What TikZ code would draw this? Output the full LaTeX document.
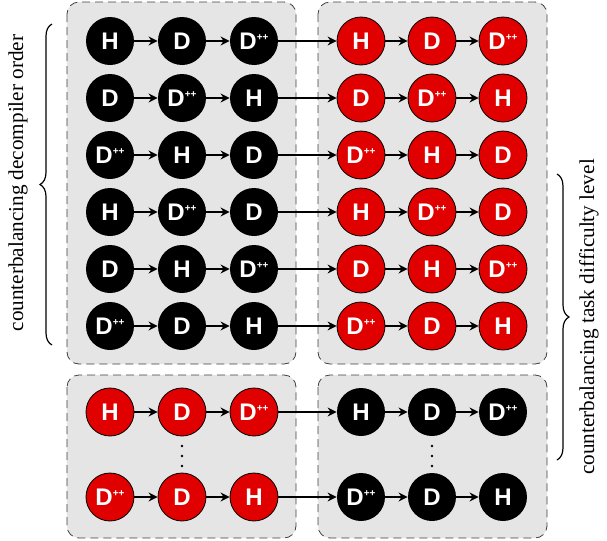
\documentclass[tikz,border=0pt]{standalone}
\usepackage{fontspec}
\setmainfont{Liberation Serif}
\setsansfont{Liberation Sans}
\usetikzlibrary{arrows.meta,decorations.pathreplacing}
\definecolor{condred}{RGB}{224,0,0}
\newcommand{\dH}{H}
\newcommand{\dD}{D}
\newcommand{\dP}{D\raisebox{4.3pt}{\tiny\bfseries ++}}
\tikzset{
    cond/.style={circle, inner sep=0pt, minimum size=24pt, text=white, font=\sffamily\bfseries\large},
    condB/.style={cond, fill=black},
    condR/.style={cond, fill=condred, draw=black, thin},
    panel/.style={draw=black!75, dash pattern=on 4pt off 2.5pt, fill=gray!20, rounded corners=6pt},
    step arrow/.style={thick, -{Stealth[length=4.5pt,width=4.5pt,inset=1.5pt]}},
    link/.style={semithick, -{Stealth[length=4.5pt,width=4.5pt,inset=1.5pt]}},
    sidebrace/.style={decorate, decoration={brace, amplitude=6pt}, semithick},
    sidelabel/.style={font=\fontsize{10.6}{12}\selectfont, rotate=90},
    vdot/.style={circle, fill=black, inner sep=0pt, minimum size=1.4pt},
}
\begin{document}
\begin{tikzpicture}[x=0.5pt,y=-0.5pt]
    \useasboundingbox (0,0) rectangle (607,541);
    % panels
    \draw[panel] (67,2) rectangle (296,364);
    \draw[panel] (318,2) rectangle (547,364);
    \draw[panel] (67,375) rectangle (296,538);
    \draw[panel] (318,375) rectangle (547,538);
    % decompiler order, all six permutations
    \foreach \a/\b/\c [count=\r] in {\dH/\dD/\dP, \dD/\dP/\dH, \dP/\dH/\dD, \dH/\dP/\dD, \dD/\dH/\dP, \dP/\dD/\dH} {
        \pgfmathsetmacro{\y}{41+57*(\r-1)}
        \node[condB] (L\r-1) at (110,\y) {\a};
        \node[condB] (L\r-2) at (182,\y) {\b};
        \node[condB] (L\r-3) at (254,\y) {\c};
        \node[condR] (R\r-1) at (361,\y) {\a};
        \node[condR] (R\r-2) at (432,\y) {\b};
        \node[condR] (R\r-3) at (503,\y) {\c};
        \draw[step arrow] (L\r-1) -- (L\r-2);
        \draw[step arrow] (L\r-2) -- (L\r-3);
        \draw[link] (L\r-3) -- (R\r-1);
        \draw[step arrow] (R\r-1) -- (R\r-2);
        \draw[step arrow] (R\r-2) -- (R\r-3);
    }
    % task difficulty swapped
    \foreach \a/\b/\c/\y [count=\r] in {\dH/\dD/\dP/412, \dP/\dD/\dH/497} {
        \node[condR] (BL\r-1) at (110,\y) {\a};
        \node[condR] (BL\r-2) at (182,\y) {\b};
        \node[condR] (BL\r-3) at (254,\y) {\c};
        \node[condB] (BR\r-1) at (361,\y) {\a};
        \node[condB] (BR\r-2) at (432,\y) {\b};
        \node[condB] (BR\r-3) at (503,\y) {\c};
        \draw[step arrow] (BL\r-1) -- (BL\r-2);
        \draw[step arrow] (BL\r-2) -- (BL\r-3);
        \draw[link] (BL\r-3) -- (BR\r-1);
        \draw[step arrow] (BR\r-1) -- (BR\r-2);
        \draw[step arrow] (BR\r-2) -- (BR\r-3);
    }
    \foreach \x in {182,432}
        \foreach \y in {446,456,466}
            \node[vdot] (dot-\x-\y) at (\x,\y) {};
    % braces and labels
    \draw[sidebrace] (52,345) -- (52,24);
    \node[sidelabel] (orderlabel) at (18,183) {counterbalancing decompiler order};
    \draw[sidebrace] (557,174) -- (557,460);
    \node[sidelabel] (levellabel) at (589,317) {counterbalancing task difficulty level};
\end{tikzpicture}
\end{document}
